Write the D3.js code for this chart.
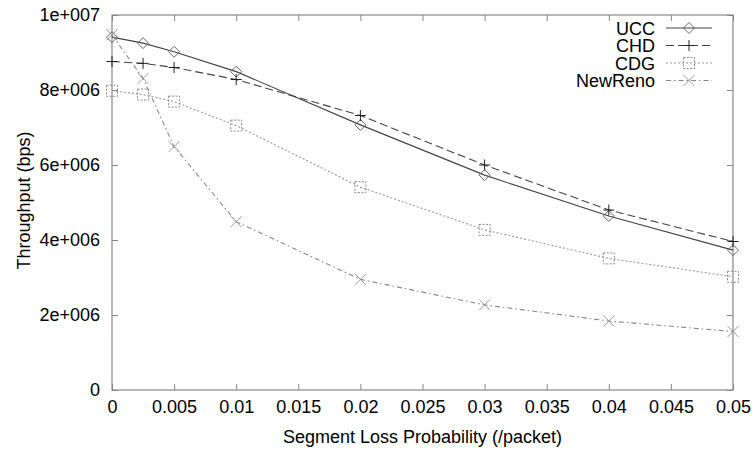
<!DOCTYPE html>
<html>
<head>
<meta charset="utf-8">
<script src="https://cdn.jsdelivr.net/npm/d3@7"></script>
<style>
  body { margin: 0; background: #fff; }
  text { font-family: "Liberation Sans", Arial, sans-serif; fill: #000; }
</style>
</head>
<body>
<div id="chart-area"></div>
<script>
// data
let lossProb = [0, 0.0025, 0.005, 0.01, 0.02, 0.03, 0.04, 0.05];
let ucc     = [9.41e6, 9.25e6, 9.02e6, 8.49e6, 7.07e6, 5.73e6, 4.64e6, 3.73e6];
let chd     = [8.76e6, 8.71e6, 8.60e6, 8.28e6, 7.32e6, 6.00e6, 4.80e6, 3.96e6];
let cdg     = [7.98e6, 7.88e6, 7.69e6, 7.05e6, 5.41e6, 4.27e6, 3.51e6, 3.02e6];
let newReno = [9.47e6, 8.31e6, 6.49e6, 4.49e6, 2.95e6, 2.27e6, 1.84e6, 1.56e6];

let xTicks = [0, 0.005, 0.01, 0.015, 0.02, 0.025, 0.03, 0.035, 0.04, 0.045, 0.05];
let xTickLabels = ["0", "0.005", "0.01", "0.015", "0.02", "0.025", "0.03", "0.035", "0.04", "0.045", "0.05"];
let yTicks = [0, 2e6, 4e6, 6e6, 8e6, 1e7];
let yTickLabels = ["0", "2e+006", "4e+006", "6e+006", "8e+006", "1e+007"];

let series = [
    { name: "UCC",     values: ucc,     stroke: "#444", dash: null,          marker: "diamond", mcolor: "#666" },
    { name: "CHD",     values: chd,     stroke: "#444", dash: "8,4",         marker: "plus",    mcolor: "#222" },
    { name: "CDG",     values: cdg,     stroke: "#999", dash: "2,2",         marker: "square",  mcolor: "#888" },
    { name: "NewReno", values: newReno, stroke: "#888", dash: "5,3,1.5,3",   marker: "cross",   mcolor: "#999" }
];

let margin = { left: 112, right: 21, top: 15, bottom: 63 };
let W = 754, H = 453;
let width = W - margin.left - margin.right,
    height = H - margin.top - margin.bottom;

let svg = d3.select("#chart-area")
    .append("svg")
    .attr("width", W)
    .attr("height", H);

let g = svg.append("g")
    .attr("transform", "translate(" + margin.left + "," + margin.top + ")");

let x = d3.scaleLinear().domain([0, 0.05]).range([0, width]);
let y = d3.scaleLinear().domain([0, 1e7]).range([height, 0]);

let axisColor = "#888";
let tickLen = 6;

// X axis (bottom) with inward ticks, mirrored on top
let xAxis = g.append("g")
    .attr("transform", "translate(0," + height + ")")
    .call(d3.axisBottom(x).tickValues(xTicks).tickSize(-tickLen).tickPadding(10)
        .tickFormat(function(d, i){ return xTickLabels[i]; }));
xAxis.select(".domain").remove();
xAxis.selectAll("line").attr("stroke", axisColor);
xAxis.selectAll("text").attr("font-size", "18px").attr("fill", "#000");

let xTop = g.append("g")
    .call(d3.axisTop(x).tickValues(xTicks).tickSize(-tickLen).tickFormat(""));
xTop.select(".domain").remove();
xTop.selectAll("line").attr("stroke", axisColor);

// Y axis (left) with inward ticks, mirrored on right
let yAxis = g.append("g")
    .call(d3.axisLeft(y).tickValues(yTicks).tickSize(-tickLen).tickPadding(12)
        .tickFormat(function(d, i){ return yTickLabels[i]; }));
yAxis.select(".domain").remove();
yAxis.selectAll("line").attr("stroke", axisColor);
yAxis.selectAll("text").attr("font-size", "18px").attr("fill", "#000");

let yRight = g.append("g")
    .attr("transform", "translate(" + width + ",0)")
    .call(d3.axisRight(y).tickValues(yTicks).tickSize(-tickLen).tickFormat(""));
yRight.select(".domain").remove();
yRight.selectAll("line").attr("stroke", axisColor);

// frame
g.append("rect")
    .attr("width", width)
    .attr("height", height)
    .attr("fill", "none")
    .attr("stroke", axisColor)
    .attr("stroke-width", 1.2);

// axis titles
g.append("text")
    .attr("x", width / 2)
    .attr("y", height + 53)
    .attr("font-size", "18px")
    .attr("text-anchor", "middle")
    .text("Segment Loss Probability (/packet)");

g.append("text")
    .attr("transform", "rotate(-90)")
    .attr("x", -(height / 2) + 2)
    .attr("y", -82)
    .attr("font-size", "18px")
    .attr("text-anchor", "middle")
    .text("Throughput (bps)");

function drawMarker(sel, type, cx, cy, color) {
    let s = 5.5;
    if (type === "diamond") {
        sel.append("path")
            .attr("d", "M" + cx + "," + (cy - s) + "L" + (cx + s) + "," + cy +
                "L" + cx + "," + (cy + s) + "L" + (cx - s) + "," + cy + "Z")
            .attr("fill", "none").attr("stroke", color).attr("stroke-width", 1);
    } else if (type === "plus") {
        sel.append("path")
            .attr("d", "M" + (cx - s) + "," + cy + "H" + (cx + s) + "M" + cx + "," + (cy - s) + "V" + (cy + s))
            .attr("fill", "none").attr("stroke", color).attr("stroke-width", 1);
    } else if (type === "square") {
        sel.append("rect")
            .attr("x", cx - s).attr("y", cy - s).attr("width", 2 * s).attr("height", 2 * s)
            .attr("fill", "none").attr("stroke", color).attr("stroke-width", 1)
            .attr("stroke-dasharray", "2,1.5");
    } else if (type === "cross") {
        sel.append("path")
            .attr("d", "M" + (cx - s) + "," + (cy - s) + "L" + (cx + s) + "," + (cy + s) +
                "M" + (cx - s) + "," + (cy + s) + "L" + (cx + s) + "," + (cy - s))
            .attr("fill", "none").attr("stroke", color).attr("stroke-width", 1);
    }
}

let line = d3.line()
    .x(function(d, i){ return x(lossProb[i]); })
    .y(function(d){ return y(d); });

series.forEach(function(s){
    g.append("path")
        .datum(s.values)
        .attr("fill", "none")
        .attr("stroke", s.stroke)
        .attr("stroke-width", 1.1)
        .attr("stroke-dasharray", s.dash)
        .attr("d", line);
    let mg = g.append("g");
    s.values.forEach(function(v, i){
        drawMarker(mg, s.marker, x(lossProb[i]), y(v), s.mcolor);
    });
});

// legend
let legend = g.append("g")
    .attr("transform", "translate(" + (655 - margin.left) + "," + (28 - margin.top) + ")");

series.forEach(function(s, i){
    let row = legend.append("g").attr("transform", "translate(0," + (i * 17.5) + ")");
    row.append("text")
        .attr("x", 0)
        .attr("y", 6.5)
        .attr("font-size", "18px")
        .attr("text-anchor", "end")
        .text(s.name);
    row.append("line")
        .attr("x1", 11).attr("x2", 57)
        .attr("y1", 0).attr("y2", 0)
        .attr("stroke", s.stroke)
        .attr("stroke-width", 1.1)
        .attr("stroke-dasharray", s.dash);
    drawMarker(row, s.marker, 34, 0, s.mcolor);
});
</script>
</body>
</html>
